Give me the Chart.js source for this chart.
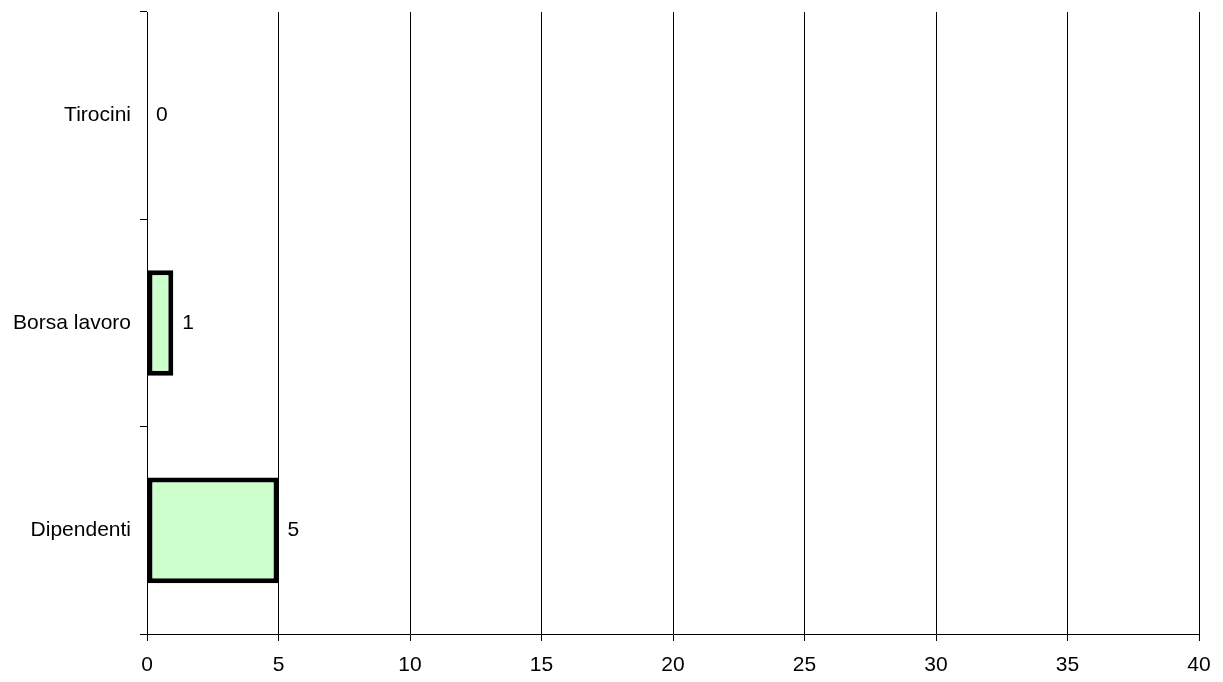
<!DOCTYPE html>
<html>
<head>
<meta charset="utf-8">
<script src="https://cdn.jsdelivr.net/npm/chart.js@4/dist/chart.umd.min.js"></script>
<style>
  html, body { margin: 0; padding: 0; background: #fff; }
</style>
</head>
<body>
<canvas id="mainChart" width="1223" height="682"></canvas>
<script>
// dati del grafico
const categories = ["Tirocini", "Borsa lavoro", "Dipendenti"];
const values = [0, 1, 5];
const xTicks = [0, 5, 10, 15, 20, 25, 30, 35, 40];

const FONT = "'Liberation Sans', Arial, sans-serif";

// etichette valore accanto alle barre
const barLabels = {
    id: "barLabels",
    afterDatasetsDraw(chart) {
        const ctx = chart.ctx;
        const meta = chart.getDatasetMeta(0);
        ctx.save();
        ctx.font = "21px " + FONT;
        ctx.fillStyle = "#000";
        ctx.textAlign = "left";
        ctx.textBaseline = "middle";
        meta.data.forEach((bar, i) => {
            ctx.fillText(String(values[i]), bar.x + 9, bar.y);
        });
        ctx.restore();
    }
};

const ctx = document.getElementById("mainChart").getContext("2d");

new Chart(ctx, {
    type: "bar",
    data: {
        labels: categories,
        datasets: [{
            data: values,
            backgroundColor: "#CCFFCC",
            borderColor: "#000",
            borderWidth: 5,
            borderSkipped: false,
            barPercentage: 0.51,
            categoryPercentage: 1
        }]
    },
    options: {
        indexAxis: "y",
        responsive: false,
        animation: false,
        layout: { padding: { top: 12, right: 24, left: 0, bottom: 0 } },
        plugins: {
            legend: { display: false },
            tooltip: { enabled: false }
        },
        scales: {
            x: {
                min: 0,
                max: 40,
                afterBuildTicks: (axis) => { axis.ticks = xTicks.map(v => ({ value: v })); },
                afterFit: (axis) => { axis.height = 48; },
                grid: {
                    color: "#000",
                    lineWidth: 1,
                    tickLength: 7
                },
                border: { color: "#000", width: 1 },
                ticks: {
                    color: "#000",
                    padding: 12,
                    font: { family: FONT, size: 21 }
                }
            },
            y: {
                afterFit: (axis) => {
                    axis.width = 147;
                    axis.paddingTop = 0;
                    axis.paddingBottom = 0;
                },
                grid: {
                    drawOnChartArea: false,
                    color: "#000",
                    tickLength: 7,
                    offset: true
                },
                border: { color: "#000", width: 1 },
                ticks: {
                    color: "#000",
                    padding: 9,
                    font: { family: FONT, size: 21 }
                }
            }
        }
    },
    plugins: [barLabels]
});
</script>
</body>
</html>
